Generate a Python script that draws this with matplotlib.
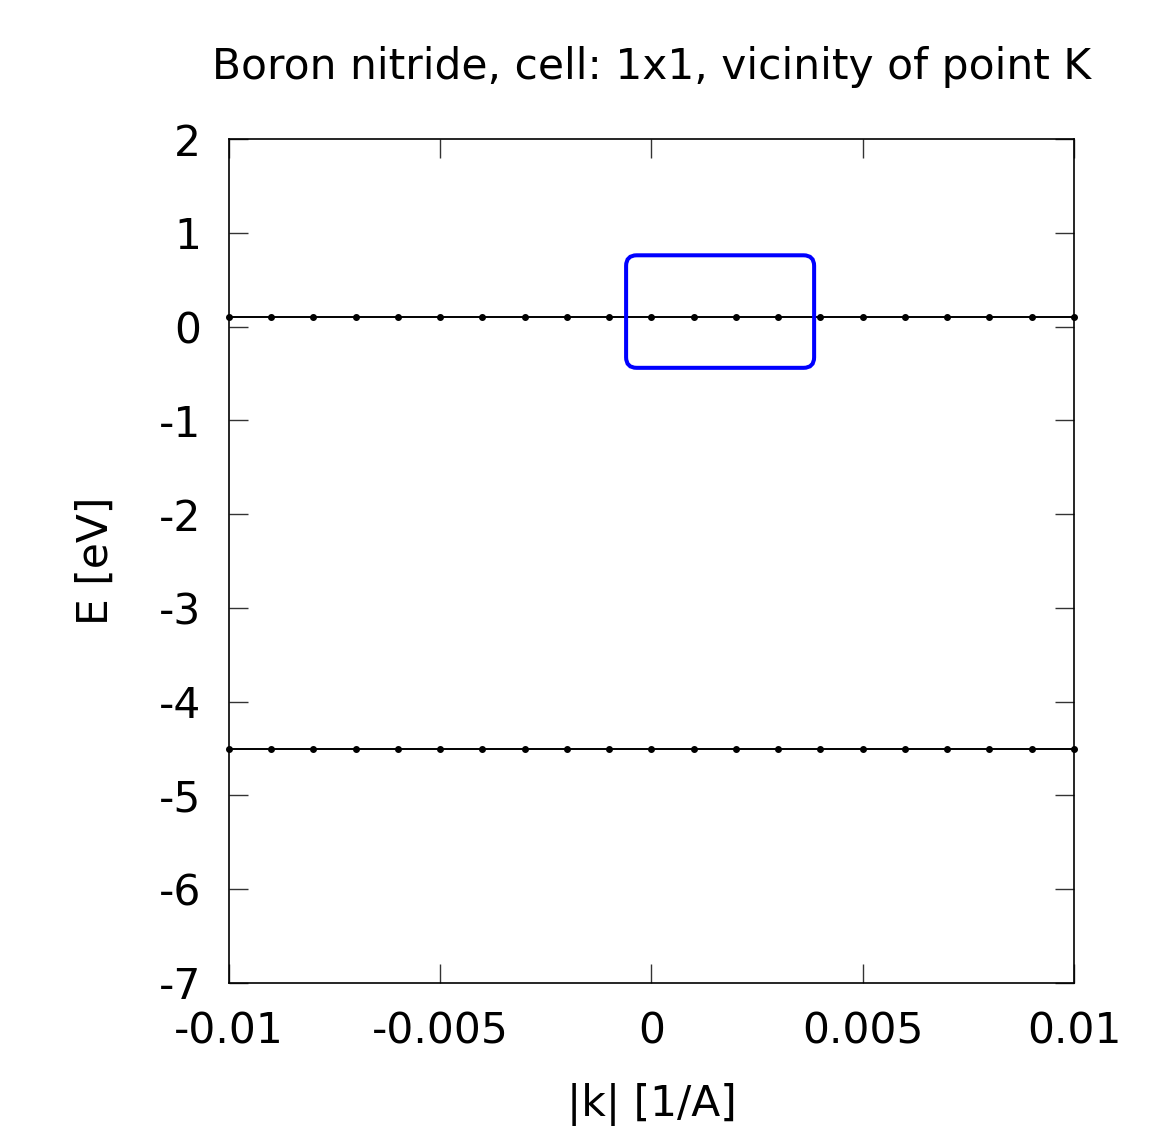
import matplotlib
matplotlib.use('Agg')

import matplotlib.pyplot as plt
from matplotlib.patches import FancyBboxPatch

# k-points along the path near K and the two band energies
K_POINTS = [-0.010, -0.009, -0.008, -0.007, -0.006, -0.005, -0.004, -0.003,
            -0.002, -0.001, 0.000, 0.001, 0.002, 0.003, 0.004, 0.005,
            0.006, 0.007, 0.008, 0.009, 0.010]
BAND_UPPER = [0.1] * 21
BAND_LOWER = [-4.5] * 21

# highlighted region (k_min, k_max, E_min, E_max)
HIGHLIGHT = (-0.0006, 0.00385, -0.44, 0.76)

X_TICKS = [-0.01, -0.005, 0, 0.005, 0.01]
X_TICK_LABELS = ["-0.01", "-0.005", "0", "0.005", "0.01"]
Y_TICKS = [2, 1, 0, -1, -2, -3, -4, -5, -6, -7]

FONT_SIZE = 30.5

plt.rcParams['font.family'] = 'DejaVu Sans'
plt.rcParams['axes.unicode_minus'] = False

fig = plt.figure(figsize=(11.68, 11.33), dpi=100)
ax = fig.add_axes([0.196, 0.1324, 0.7235, 0.7449])

for band in [BAND_UPPER, BAND_LOWER]:
    ax.plot(K_POINTS, band, "o-", color="black", linewidth=1.4,
            markersize=4, clip_on=False, zorder=3)

xr = 0.02
yr = 9.0
box = FancyBboxPatch(
    (HIGHLIGHT[0], HIGHLIGHT[2]),
    HIGHLIGHT[1] - HIGHLIGHT[0],
    HIGHLIGHT[3] - HIGHLIGHT[2],
    boxstyle="round,pad=0,rounding_size=0.00025",
    mutation_aspect=yr / xr,
    fill=False, edgecolor="#0000ff", linewidth=2.9, zorder=4,
)
ax.add_patch(box)

ax.set_xlim(-0.01, 0.01)
ax.set_ylim(-7, 2)
ax.set_xticks(X_TICKS)
ax.set_xticklabels(X_TICK_LABELS)
ax.set_yticks(Y_TICKS)
ax.tick_params(direction="in", length=14, width=1.0, top=True, right=True,
               labelsize=FONT_SIZE, color="#333333")
ax.tick_params(axis="x", pad=20)
ax.tick_params(axis="y", pad=20)
for s in ax.spines.values():
    s.set_linewidth(1.2)

ax.set_xlabel("|k| [1/A]", fontsize=FONT_SIZE, labelpad=22)
ax.set_ylabel("E [eV]", fontsize=FONT_SIZE, labelpad=30)
ax.set_title("Boron nitride, cell: 1x1, vicinity of point K",
             fontsize=FONT_SIZE, pad=43)

plt.savefig("out.png", dpi=100)
plt.close('all')
